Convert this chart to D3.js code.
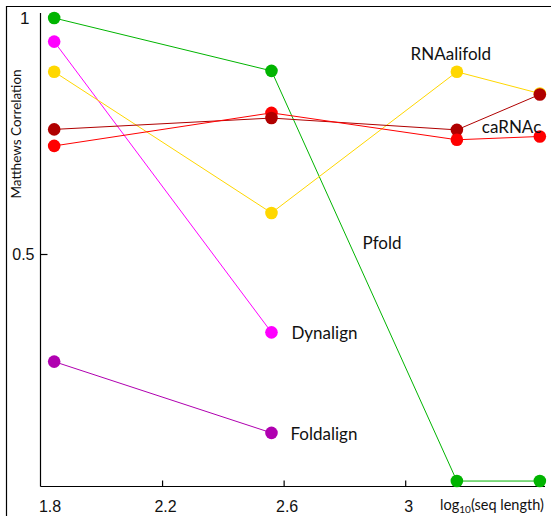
<!DOCTYPE html>
<html><head><meta charset="utf-8">
<script src="https://cdn.jsdelivr.net/npm/d3@7"></script>
<style>body{margin:0;background:#fff}svg{display:block}</style>
</head><body>
<script>
// log10(seq length) positions of the four test sets
const xValues = [1.845, 2.56, 3.17, 3.443];
const xTicks = [1.8, 2.2, 2.6, 3];
const yTicks = [0.5, 1];
// Matthews correlation per method
const pfold      = [1.0, 0.888, 0.019, 0.019];
const dynalign   = [0.950, 0.334];
const rnaalifold = [0.886, 0.587, 0.886, 0.840];
const carnacDark = [0.764, 0.788, 0.763, 0.838];
const carnacRed  = [0.729, 0.799, 0.742, 0.749];
const foldalign  = [0.272, 0.121];
const seriesNames = ["Pfold","Dynalign","RNAalifold","caRNAc","caRNAc2","Foldalign"];
const seriesValues = [pfold, dynalign, rnaalifold, carnacDark, carnacRed, foldalign];
const seriesColors = ["#00b400","#ff00ff","#ffd700","#b00000","#ff0000","#b000b0"];
const labels = [
  {text:"RNAalifold", series:2, i:2, anchor:"middle", dx:-6, dy:-18},
  {text:"caRNAc", series:3, i:3, anchor:"start", dx:-58, dy:32},
  {text:"Pfold", series:0, i:1, anchor:"start", dx:91, dy:172},
  {text:"Dynalign", series:1, i:1, anchor:"start", dx:20, dy:0},
  {text:"Foldalign", series:5, i:1, anchor:"start", dx:19, dy:1}
];

const W = 551, H = 516;
const svg = d3.select("body").append("svg").attr("width", W).attr("height", H);

const x = d3.scaleLinear().domain([1.8, 3.46]).range([40.5, 545]);
const y = d3.scaleLinear().domain([0, 1]).range([490, 18]);

// outer frame (top and left edges visible)
svg.append("path").attr("d", "M6.5,516V6.5H551").attr("fill","none").attr("stroke","#000").attr("stroke-width",1.2);

// axes
const axisX = 486.5, axisY = 40.5;
svg.append("line").attr("x1", axisY).attr("x2", 545).attr("y1", axisX).attr("y2", axisX).attr("stroke","#000").attr("stroke-width",1.2);
svg.append("line").attr("x1", axisY).attr("x2", axisY).attr("y1", 13).attr("y2", axisX).attr("stroke","#000").attr("stroke-width",1.2);

const gx = svg.append("g").attr("transform", `translate(0,${axisX})`)
  .call(d3.axisBottom(x).tickValues(xTicks).tickSize(-6).tickSizeOuter(0).tickFormat(d3.format("")));
gx.select(".domain").remove();
gx.selectAll(".tick line").attr("stroke-width",1.2).filter(d => d === 1.8).remove();
gx.selectAll(".tick text").attr("y", 14).attr("dx", d => d === 1.8 ? 9 : 3)
  .attr("font-family","Liberation Sans, sans-serif").attr("font-size",16).attr("fill","#111");

const gy = svg.append("g").attr("transform", `translate(${axisY},0)`)
  .call(d3.axisLeft(y).tickValues(yTicks).tickSize(-7).tickSizeOuter(0).tickFormat(d3.format("")));
gy.select(".domain").remove();
gy.selectAll(".tick line").attr("stroke-width",1.2).filter(d => d === 1).remove();
gy.selectAll(".tick text").attr("x", -6).attr("dx", d => d === 1 ? -5 : 0)
  .attr("font-family","Liberation Sans, sans-serif").attr("font-size", d => d === 1 ? 17 : 16).attr("fill","#111");

// axis titles
svg.append("text").attr("transform","translate(21,134) rotate(-90)").attr("text-anchor","middle")
  .attr("font-family","Lato, sans-serif").attr("font-size",13.5).attr("fill","#111").text("Matthews Correlation");
const xt = svg.append("text").attr("x", 492).attr("y", 510).attr("text-anchor","middle")
  .attr("font-family","Lato, sans-serif").attr("font-size",14.5).attr("fill","#111");
xt.append("tspan").text("log");
xt.append("tspan").attr("font-size",10).attr("dy",3).text("10");
xt.append("tspan").attr("dy",-3).text("(seq length)");

// lines
const line = d3.line().x((d,i) => x(xValues[i])).y(d => y(d));
seriesValues.forEach((vals, s) => {
  svg.append("path").datum(vals).attr("d", line).attr("fill","none")
    .attr("stroke", seriesColors[s]).attr("stroke-width", 1);
});

// points, drawn top-to-bottom
const pts = [];
seriesValues.forEach((vals, s) => vals.forEach((v, i) => pts.push({s, i, v})));
pts.sort((a,b) => b.v - a.v);
svg.selectAll("circle.pt").data(pts).enter().append("circle").attr("class","pt")
  .attr("cx", d => x(xValues[d.i])).attr("cy", d => y(d.v)).attr("r", 6.3)
  .attr("fill", d => seriesColors[d.s]);

// labels
labels.forEach(l => {
  svg.append("text").attr("x", x(xValues[l.i]) + l.dx).attr("y", y(seriesValues[l.series][l.i]) + l.dy)
    .attr("dominant-baseline","central").attr("text-anchor", l.anchor)
    .attr("font-family","Lato, sans-serif").attr("font-size",17).attr("fill","#111").text(l.text);
});
</script>
</body></html>
